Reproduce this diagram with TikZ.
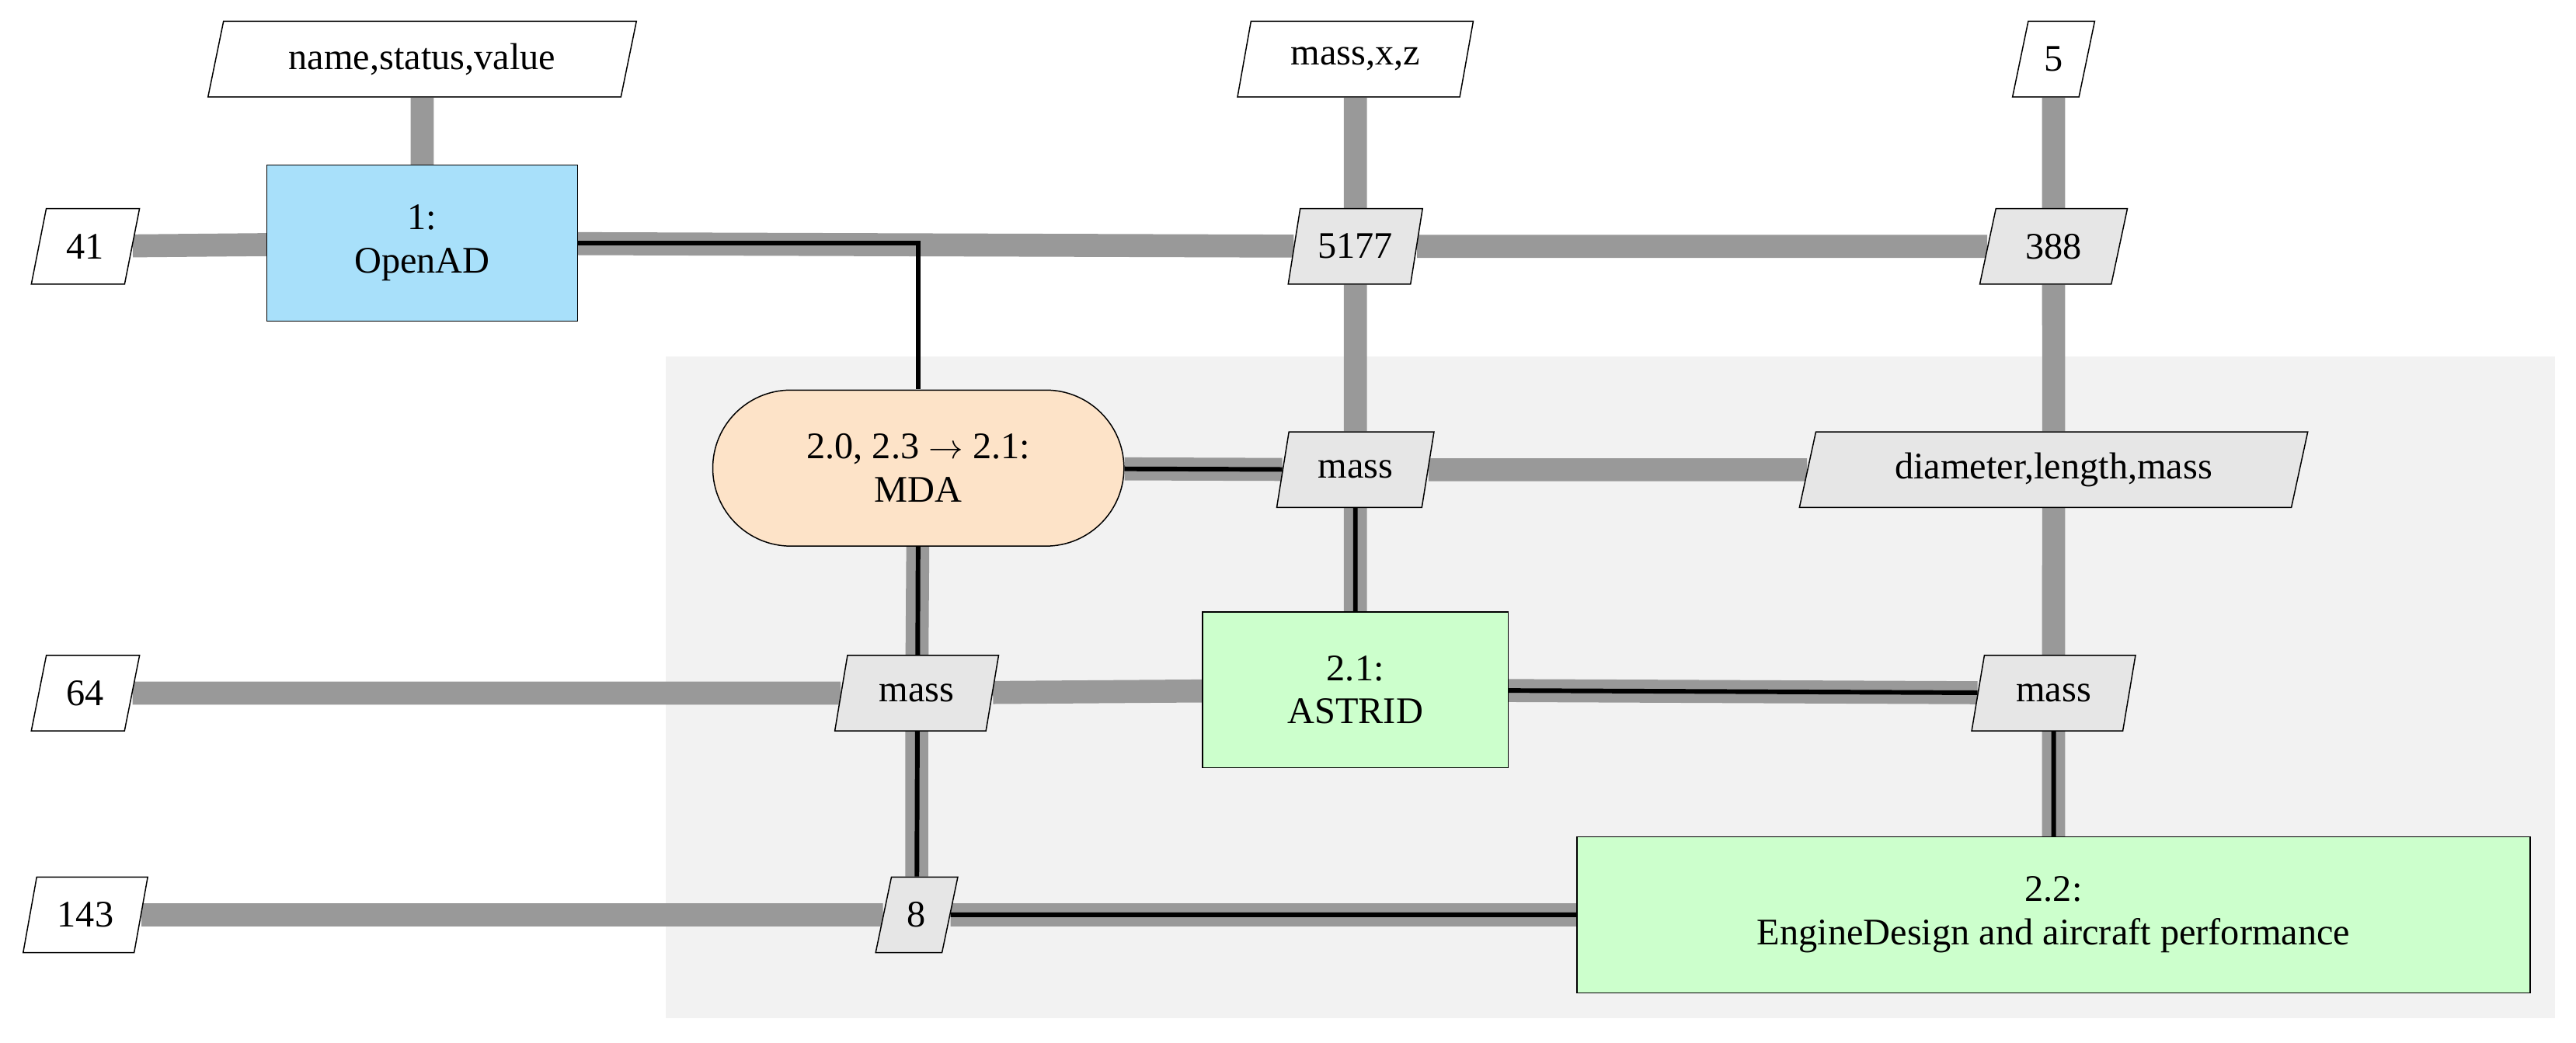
\documentclass[tikz,border=0pt]{standalone}
\usepackage{fontspec}
\setmainfont{Liberation Serif}
\usetikzlibrary{shapes.geometric,shapes.misc}
\pgfdeclarelayer{panel}
\pgfdeclarelayer{bg}
\pgfdeclarelayer{mid}
\pgfsetlayers{panel,bg,mid,main}
\definecolor{toolblue}{HTML}{A8E0FA}
\definecolor{mdapeach}{HTML}{FDE3C8}
\definecolor{discgreen}{HTML}{CCFFCC}
\definecolor{datagray}{HTML}{E6E6E6}
\definecolor{panelgray}{HTML}{F2F2F2}
\tikzset{
  data/.style={trapezium, trapezium left angle=78, trapezium right angle=102, trapezium stretches=true,
    draw=black, fill=datagray, minimum height=46*0.02cm, font=\fontsize{13}{15}\selectfont, inner xsep=2pt},
  io/.style={data, fill=white},
  disc/.style={rectangle, draw=black, fill=discgreen, minimum height=95*0.02cm, align=center,
    font=\fontsize{13}{15}\selectfont},
  flow/.style={line width=14*0.02cm, draw=gray!80},
  proc/.style={line width=1.6pt, draw=black},
}
\begin{document}
\begin{tikzpicture}[x=0.02cm, y=-0.02cm]
    \useasboundingbox (0,0) rectangle (1568,635);
    \begin{pgfonlayer}{panel}
        \fill[panelgray] (405,217) rectangle (1555,620);
    \end{pgfonlayer}

    % inputs
    \node[io, minimum width=261*0.02cm] (inosv) at (257,36) {name,status,value};
    \node[io, minimum width=144*0.02cm] (inmxz) at (825,36) {mass,x,z};
    \node[io, minimum width=50*0.02cm] (infive) at (1250,36) {5};
    \node[io, minimum width=66*0.02cm] (in41) at (52,150) {41};
    \node[io, minimum width=66*0.02cm] (in64) at (52,422) {64};
    \node[io, minimum width=76*0.02cm] (in143) at (52,557) {143};

    % components
    \node[disc, fill=toolblue, minimum width=189*0.02cm] (oad) at (257,148) {1:\\OpenAD};
    \node[rounded rectangle, draw=black, fill=mdapeach, minimum width=262*0.02cm, minimum height=95*0.02cm,
        align=center, font=\fontsize{13}{15}\selectfont] (mda) at (559,285) {2.0, 2.3 $\rightarrow$ 2.1:\\MDA};
    \node[disc, minimum width=186*0.02cm] (astrid) at (825,420) {2.1:\\ASTRID};
    \node[disc, minimum width=580*0.02cm] (eng) at (1250,557) {2.2:\\EngineDesign and aircraft performance};

    % couplings
    \node[data, minimum width=82*0.02cm] (d5177) at (825,150) {5177};
    \node[data, minimum width=90*0.02cm] (d388) at (1250,150) {388};
    \node[data, minimum width=96*0.02cm] (dmassa) at (825,286) {mass};
    \node[data, minimum width=310*0.02cm] (ddlm) at (1250,286) {diameter,length,mass};
    \node[data, minimum width=100*0.02cm] (dmassb) at (558,422) {mass};
    \node[data, minimum width=100*0.02cm] (dmassc) at (1250,422) {mass};
    \node[data, minimum width=50*0.02cm] (deight) at (558,557) {8};

    \begin{pgfonlayer}{bg}
        \draw[flow] (inosv) -- (oad);
        \draw[flow] (inmxz) -- (d5177) -- (dmassa) -- (astrid);
        \draw[flow] (infive) -- (d388) -- (ddlm) -- (dmassc) -- (eng);
        \draw[flow] (in41) -- (oad) -- (d5177) -- (d388);
        \draw[flow] (mda) -- (dmassa) -- (ddlm);
        \draw[flow] (in64) -- (dmassb) -- (astrid) -- (dmassc);
        \draw[flow] (in143) -- (deight) -- (eng);
        \draw[flow] (mda) -- (dmassb) -- (deight);
    \end{pgfonlayer}
    \begin{pgfonlayer}{mid}
        \draw[proc] (oad) -| (mda);
        \draw[proc] (mda) -- (dmassa) -- (astrid) -- (dmassc) -- (eng);
        \draw[proc] (mda) -- (deight) -- (eng);
    \end{pgfonlayer}
\end{tikzpicture}
\end{document}
